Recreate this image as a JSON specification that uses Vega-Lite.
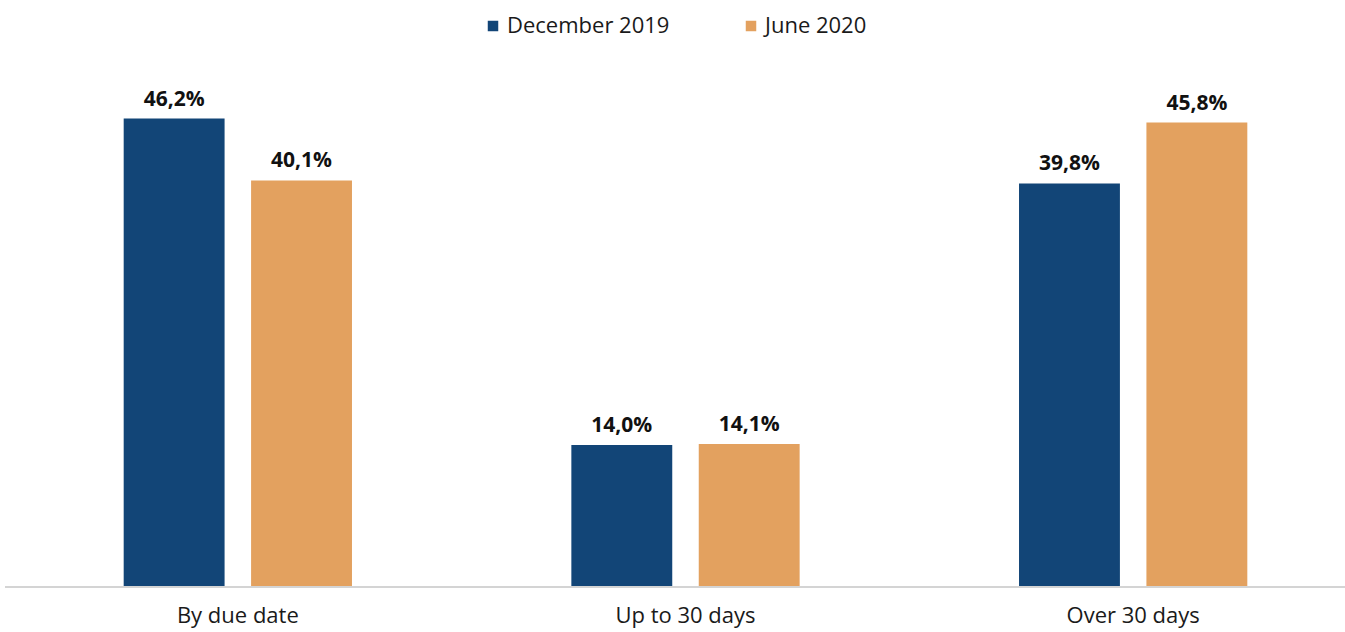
{
  "$schema": "https://vega.github.io/schema/vega-lite/v6.json",
  "autosize": "none",
  "padding": {"left": 5, "top": 80, "right": 0, "bottom": 45},
  "width": 1340,
  "height": 507,
  "config": {
    "locale": {"number": {"decimal": ",", "thousands": ".", "grouping": [3], "currency": ["", " €"]}},
    "view": {"stroke": null},
    "font": "Open Sans"
  },
  "data": {
    "values": [
      {"category": "By  due date", "series": "December 2019", "value": 0.462},
      {"category": "By  due date", "series": "June 2020", "value": 0.401},
      {"category": "Up to 30 days", "series": "December 2019", "value": 0.140},
      {"category": "Up to 30 days", "series": "June 2020", "value": 0.141},
      {"category": "Over 30 days", "series": "December 2019", "value": 0.398},
      {"category": "Over 30 days", "series": "June 2020", "value": 0.458}
    ]
  },
  "encoding": {
    "x": {
      "field": "category", "type": "nominal", "sort": null,
      "scale": {"range": [9, 1352], "paddingInner": 0, "paddingOuter": 0},
      "axis": {"title": null, "domain": false, "ticks": false, "labelAngle": 0, "labelFontSize": 22, "labelColor": "#1a1a1a", "labelPadding": 18, "labelFont": "Open Sans"}
    },
    "xOffset": {
      "field": "series", "type": "nominal",
      "scale": {"paddingInner": 0.208, "paddingOuter": 0.861}
    }
  },
  "layer": [
    {
      "mark": {"type": "bar"},
      "encoding": {
        "y": {"field": "value", "type": "quantitative", "scale": {"domain": [0, 0.5]}, "axis": null},
        "color": {
          "field": "series", "type": "nominal",
          "scale": {"domain": ["December 2019", "June 2020"], "range": ["#124577", "#E3A15F"]},
          "legend": {
            "title": null, "orient": "none", "direction": "horizontal",
            "legendX": 477, "legendY": -65,
            "symbolType": "square", "symbolSize": 110, "symbolStrokeWidth": 0,
            "labelFontSize": 22, "labelColor": "#1a1a1a", "labelOffset": 3, "labelLimit": 400,
            "columnPadding": 70, "labelFont": "Open Sans"
          }
        }
      }
    },
    {
      "mark": {"type": "text", "baseline": "bottom", "dy": -9, "fontSize": 21, "fontWeight": "bold", "color": "#111111"},
      "encoding": {
        "y": {"field": "value", "type": "quantitative"},
        "text": {"field": "value", "type": "quantitative", "format": ".1%"}
      }
    },
    {
      "mark": {"type": "rule", "color": "#d4d4d4", "strokeWidth": 2},
      "encoding": {"y": {"datum": 0}, "xOffset": null, "x": null}
    }
  ]
}
